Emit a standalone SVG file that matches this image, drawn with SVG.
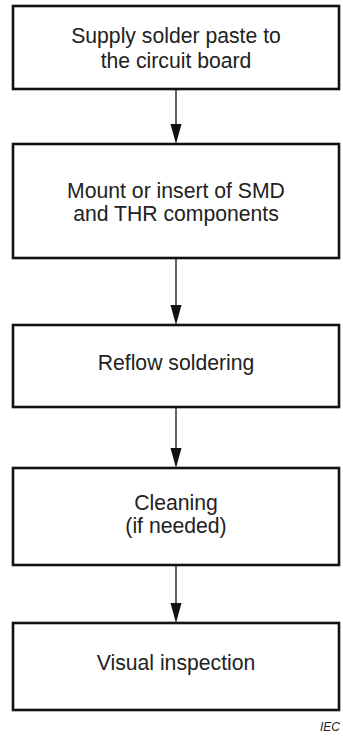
<svg xmlns="http://www.w3.org/2000/svg" width="343" height="736" viewBox="0 0 343 736">
<style>
.box{fill:#fff;stroke:#111;stroke-width:2.6}
.t{font-family:"Liberation Sans",Arial,sans-serif;font-size:21.2px;fill:#222;text-anchor:middle}
.c{stroke:#111;stroke-width:1.3;fill:none}
.h{fill:#111}
.iec{font-family:"Liberation Sans",Arial,sans-serif;font-size:12px;font-style:italic;fill:#222}
</style>
<rect width="343" height="736" fill="#fff"/>
<g id="connectors">
<line class="c" x1="176" y1="89" x2="176" y2="128"/>
<polygon class="h" points="170.5,124 181.5,124 176,144"/>
<line class="c" x1="176" y1="258" x2="176" y2="308"/>
<polygon class="h" points="170.5,305 181.5,305 176,325"/>
<line class="c" x1="176" y1="407" x2="176" y2="452"/>
<polygon class="h" points="170.5,448 181.5,448 176,468"/>
<line class="c" x1="176" y1="565" x2="176" y2="607"/>
<polygon class="h" points="170.5,603 181.5,603 176,623"/>
</g>
<g id="n1">
<rect class="box" x="13" y="6" width="326" height="83"/>
<text class="t" x="176" y="43">Supply solder paste to</text>
<text class="t" x="176" y="68">the circuit board</text>
</g>
<g id="n2">
<rect class="box" x="13" y="144" width="326" height="114"/>
<text class="t" x="176" y="198">Mount or insert of SMD</text>
<text class="t" x="176" y="221">and THR components</text>
</g>
<g id="n3">
<rect class="box" x="13" y="325" width="326" height="82"/>
<text class="t" x="176" y="370">Reflow soldering</text>
</g>
<g id="n4">
<rect class="box" x="13" y="468" width="326" height="97"/>
<text class="t" x="176" y="510">Cleaning</text>
<text class="t" x="176" y="533">(if needed)</text>
</g>
<g id="n5">
<rect class="box" x="13" y="623" width="326" height="87"/>
<text class="t" x="176" y="670">Visual inspection</text>
</g>
<text class="iec" x="320" y="731">IEC</text>
</svg>
